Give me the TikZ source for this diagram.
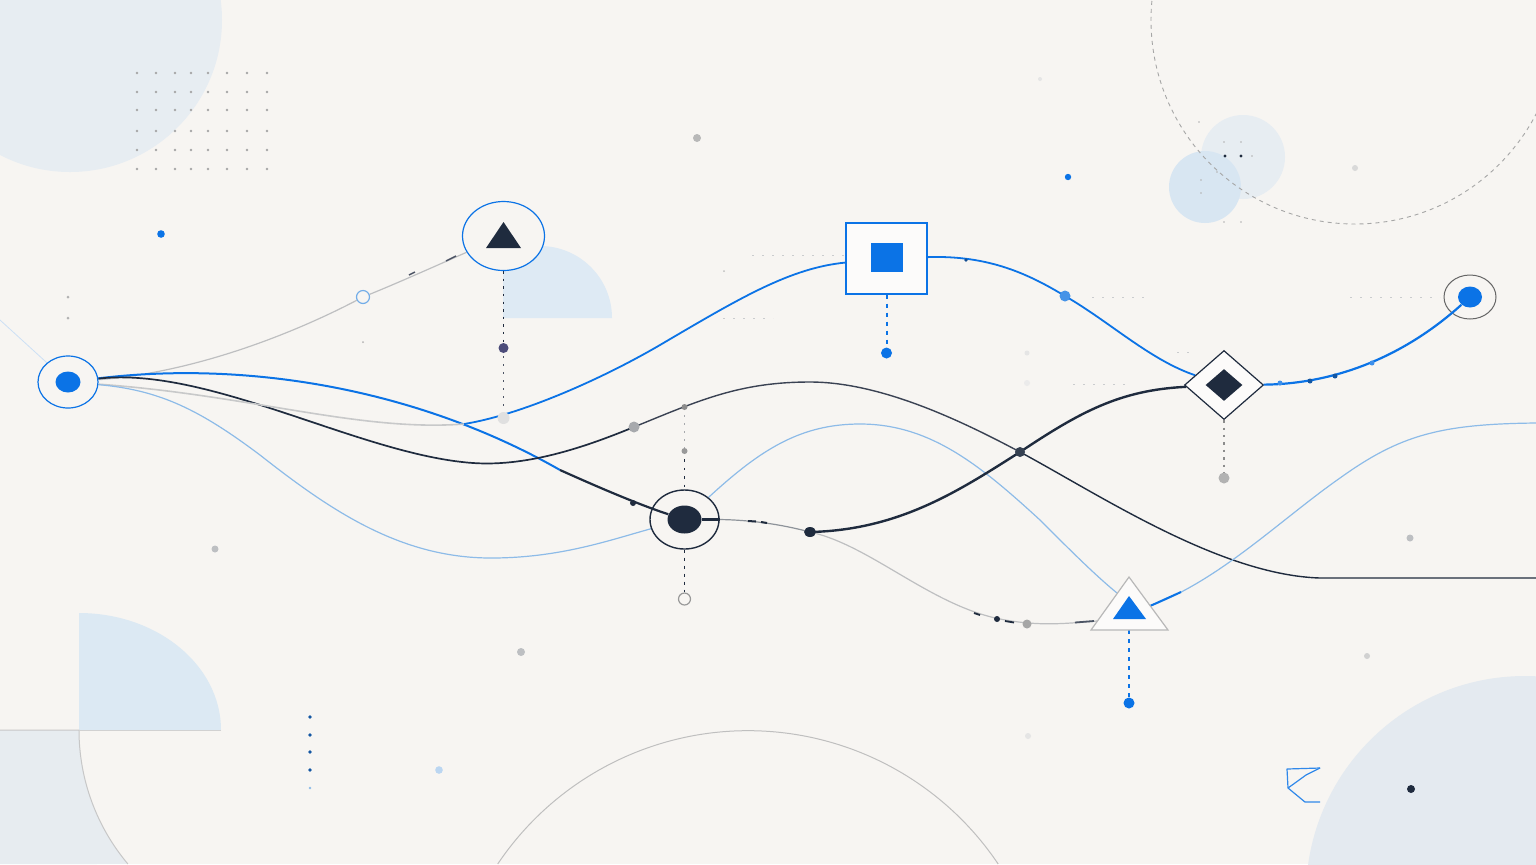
\documentclass[tikz,border=0pt]{standalone}
\usetikzlibrary{shapes.geometric}
\pgfdeclarelayer{bg}
\pgfdeclarelayer{edges}
\pgfsetlayers{bg,edges,main}
\definecolor{bgc}{HTML}{F7F5F2}
\definecolor{navy}{HTML}{1F2B3E}
\definecolor{blu}{HTML}{0B73E6}
\definecolor{lblu}{HTML}{8DBBE8}
\definecolor{gline}{HTML}{BEBFC1}
\definecolor{shapeA}{HTML}{E7EDF2}
\definecolor{shapeB}{HTML}{D8E6F2}
\definecolor{shapeC}{HTML}{E7ECF0}
\definecolor{shapeD}{HTML}{E4EAF0}
\definecolor{dgray}{HTML}{4D5465}
\definecolor{mgray}{HTML}{A7A9AD}
\definecolor{wfill}{HTML}{FCFBFA}
\definecolor{softgray}{HTML}{BDBFC2}
\definecolor{midnavy}{HTML}{3A4253}
\begin{document}
\begin{tikzpicture}[x=0.5pt,y=-0.5pt,
  ringstyle/.style={ellipse,inner sep=0pt,fill=bgc},
  innerdot/.style={ellipse,inner sep=0pt},
  guide/.style={softgray!80,line width=0.5pt,dash pattern=on 1pt off 4pt},
  opencirc/.style={circle,inner sep=0pt,fill=bgc,line width=0.6pt}]
\useasboundingbox (0,0) rectangle (1536,864);

% ---------- nodes ----------
\node[ringstyle,draw=blu,line width=0.6pt,minimum width=30pt,minimum height=26pt] (A) at (68,382) {};
\node[innerdot,fill=blu,minimum width=12.5pt,minimum height=10.5pt] (Ai) at (68,382) {};

\node[ringstyle,draw=blu,line width=0.6pt,minimum width=41pt,minimum height=34.5pt] (B) at (503.5,236) {};
\fill[navy] (503.5,222) -- (521,248) -- (486,248) -- cycle;

\node[rectangle,draw=blu,line width=0.6pt,fill=wfill,inner sep=0pt,minimum width=40.5pt,minimum height=35.5pt] (C) at (886.5,258.5) {};
\node[rectangle,fill=blu,inner sep=0pt,minimum width=16pt,minimum height=14.5pt] (Ci) at (887,257.5) {};

\node[diamond,draw=navy,line width=0.6pt,fill=wfill,inner sep=0pt,minimum width=39.5pt,minimum height=34.5pt] (D) at (1224,385) {};
\node[diamond,fill=navy,inner sep=0pt,minimum width=18.5pt,minimum height=16pt] (Di) at (1224,385) {};

\node[ringstyle,draw=black!60,line width=0.5pt,minimum width=26pt,minimum height=22pt] (E) at (1470,297) {};
\node[innerdot,fill=blu,minimum width=12pt,minimum height=10.5pt] (Ei) at (1470,297) {};

\node[ringstyle,draw=navy,line width=0.7pt,minimum width=34.5pt,minimum height=29.5pt] (F) at (684.5,519.5) {};
\node[innerdot,fill=navy,minimum width=17pt,minimum height=14pt] (Fi) at (684.5,519.5) {};

\coordinate (G) at (1129,610);
\filldraw[fill=wfill,draw=black!28,line width=0.6pt] (1129,577) -- (1168,630) -- (1091,630) -- cycle;
\fill[blu] (1129,596) -- (1146,619) -- (1113,619) -- cycle;
\coordinate (Gtl) at (1117,593);
\coordinate (Gr) at (1150,606);
\coordinate (Gl) at (1097,621);
\coordinate (Gb) at (1129,630);

\node[opencirc,draw=lblu!80!blu,minimum size=6.5pt] (O1) at (363,297) {};
\node[opencirc,draw=black!40,minimum size=6pt] (Fo) at (684.5,599) {};

\coordinate (p1) at (560,470);
\coordinate (p2) at (810,532);
\coordinate (X) at (464,424);
\coordinate (b1) at (503.5,348);
\coordinate (b2) at (503.5,418);
\coordinate (c1) at (886.5,353);
\coordinate (f0) at (684.5,407);
\coordinate (f1) at (684.5,451);
\coordinate (d1) at (1224,478);
\coordinate (g1) at (1129,703);
\coordinate (q1) at (634,427);
\coordinate (q2) at (1020,452);
\coordinate (q3) at (1065,296);

% ---------- background ----------
\begin{pgfonlayer}{bg}
\fill[bgc] (0,0) rectangle (1536,864);
\begin{scope}
\clip (0,0) rectangle (1536,864);
\fill[shapeA] (70,20) circle[radius=152];
\foreach \xx in {137,156,175,191,208,227,247,267}
  \foreach \yy in {73,92,110,131,150,169}
    \fill[black!35] (\xx,\yy) circle[radius=1.3];
\fill[shapeB!85] (503,318) -- (503,246) -- (540,246) arc[start angle=-90,end angle=0,radius=72] -- cycle;
% bottom left
\fill[shapeB!90] (79,730) -- (79,613) arc[start angle=-90,end angle=0,x radius=142,y radius=117] -- cycle;
\fill[shapeC] (0,730) -- (79,730) arc[start angle=180,end angle=139.9,radius=208] -- (0,864) -- cycle;
\draw[black!22,line width=0.5pt] (0,730) -- (79,730) arc[start angle=180,end angle=139.9,radius=208];
\draw[black!18,line width=0.4pt] (79,730) -- (221,730);
% bottom centre arc
\draw[black!25,line width=0.5pt] (497.7,864) arc[start angle=-146.1,end angle=-33.9,radius=301.5];
% bottom right
\fill[shapeD] (1525,895) circle[radius=219];
% top right
\fill[shapeA] (1243,157) circle[radius=42];
\fill[shapeB] (1205,187) circle[radius=36];
\draw[black!35,line width=0.45pt,dash pattern=on 2pt off 2pt] (1355,20) circle[radius=204];
\fill[navy] (1225,156) circle[radius=1.6];
\fill[navy] (1241,156) circle[radius=1.6];
\foreach \pp in {(1224,142),(1241,142),(1199,122),(1201,180),(1201,193),(1224,222),(1241,222),(1252,156),(1217,172)}
  \fill[black!30] \pp circle[radius=0.8];
% scattered dots
\fill[blu] (161,234) circle[radius=3.8];
\fill[black!28] (697,138) circle[radius=4];
\fill[blu] (1068,177) circle[radius=3.2];
\fill[black!15] (1355,168) circle[radius=3];
\fill[black!10] (1040,79) circle[radius=2];
\fill[softgray] (215,549) circle[radius=3.5];
\fill[softgray] (521,652) circle[radius=4];
\fill[lblu!60] (439,770) circle[radius=3.8];
\foreach \yy in {717,735,752,770} \fill[blu!60!navy] (310,\yy) circle[radius=1.8];
\fill[lblu] (310,788) circle[radius=1.3];
\fill[softgray] (1410,538) circle[radius=3.5];
\fill[black!18] (1367,656) circle[radius=3];
\fill[black!10] (1028,736) circle[radius=3];
\fill[navy] (1411,789) circle[radius=4];
\fill[black!30] (68,297) circle[radius=1.5];
\fill[black!30] (68,318) circle[radius=1.5];
\fill[black!30] (363,342) circle[radius=1];
\fill[black!10] (1027,353) circle[radius=2.5];
\fill[black!8] (1027,383) circle[radius=3];
\fill[black!25] (724,271) circle[radius=1];
% faint guides
\draw[guide] (752,255) -- (845,255);
\draw[guide] (723,318) -- (773,318);
\draw[guide] (1092,297) -- (1148,297);
\draw[guide] (1073,384) -- (1130,384);
\draw[guide] (1350,297) -- (1440,297);
\draw[guide] (1177,352) -- (1190,352);
% blue glyph
\draw[blu!85,line width=0.6pt,line join=round] (1320,768) -- (1287,769) -- (1288,788) -- (1305,802) -- (1320,802);
\draw[blu!85,line width=0.6pt,line join=round] (1320,768) -- (1306,775) -- (1288,788);
\end{scope}
\end{pgfonlayer}

% ---------- connectors ----------
\begin{pgfonlayer}{edges}
\draw[lblu!45,line width=0.4pt] (0,320) -- (A);
% A -> O1 -> B (grey)
\draw[gline,line width=0.6pt] (A) .. controls (200,372) and (300,330) .. (O1);
\draw[gline,line width=0.6pt] (O1) .. controls (400,282) and (440,264) .. (B);
\draw[dgray,line width=0.7pt] (409,275) -- (415,272);
\draw[dgray,line width=0.7pt] (446,261) -- (456,256);
% A -> F (blue part)
\draw[blu,line width=1pt] (A) .. controls (250,360) and (420,390) .. (p1);
% A -> ... -> right edge (navy)
\draw[navy,line width=0.85pt] (A) .. controls (210,366) and (360,455) .. (473,463) .. controls (530,467) and (590,445) .. (q1);
\draw[midnavy,line width=0.7pt] (q1) .. controls (700,400) and (740,382) .. (810,382) .. controls (880,382) and (960,420) .. (q2);
\draw[navy,line width=0.7pt] (q2) .. controls (1100,495) and (1220,575) .. (1320,578) -- (1536,578);
% A -> X (grey) -> C (blue)
\draw[gline!85,line width=0.8pt] (A) .. controls (250,395) and (360,432) .. (X);
\draw[blu,line width=0.9pt] (X) .. controls (520,415) and (600,380) .. (660,345) .. controls (740,298) and (790,268) .. (C);
% C -> D
\draw[blu,line width=0.9pt] (C) .. controls (990,255) and (1030,275) .. (q3) .. controls (1110,322) and (1150,360) .. (D);
% light blue A -> F -> G -> right edge
\draw[lblu,line width=0.6pt] (A) .. controls (160,390) and (200,410) .. (260,455) .. controls (330,510) and (400,558) .. (491,558) .. controls (560,558) and (610,540) .. (F);
\draw[lblu,line width=0.6pt] (F) .. controls (760,450) and (800,424) .. (860,424) .. controls (930,424) and (980,465) .. (1040,520) .. controls (1070,550) and (1095,575) .. (Gtl);
\draw[lblu,line width=0.6pt] (Gr) .. controls (1220,580) and (1280,520) .. (1340,478) .. controls (1400,435) and (1440,424) .. (1536,423);
\draw[blu,line width=1pt] (Gr) -- (1181,592);
% F -> p2
\draw[gline!70!navy,line width=0.6pt] (F.east) .. controls (750,520) and (780,524) .. (p2);
\draw[navy,line width=1pt] (748,521) -- (756,521.5);
\draw[navy,line width=1pt] (761,522) -- (767,523);
% p2 -> D (dark thick)
\draw[navy,line width=1.2pt] (p2) .. controls (900,530) and (960,490) .. (q2) .. controls (1080,412) and (1120,390) .. (D);
% p2 -> G (grey)
\draw[gline,line width=0.6pt] (p2) .. controls (870,545) and (930,605) .. (1000,619) .. controls (1040,627) and (1070,623) .. (Gl);
\draw[navy,line width=0.9pt] (974,613) -- (980,615);
\draw[navy,line width=0.9pt] (1005,621) -- (1014,622.5);
\draw[navy!80,line width=0.9pt] (1075,622.5) -- (1094,621);
% dotted verticals
\draw[navy,line width=0.8pt,dash pattern=on 1.2pt off 2.6pt] (B) -- (b1);
\draw[dgray,line width=0.6pt,dash pattern=on 1pt off 3pt] (b1) -- (b2);
\draw[blu,line width=1pt,dash pattern=on 2pt off 2.5pt] (C) -- (c1);
\draw[mgray,line width=0.6pt,dash pattern=on 1pt off 3pt] (f0) -- (f1);
\draw[navy,line width=0.7pt,dash pattern=on 1.2pt off 3pt] (f1) -- (F);
\draw[navy,line width=0.8pt,dash pattern=on 1.5pt off 2.5pt] (F) -- (Fo);
\draw[black!45,line width=0.6pt,dash pattern=on 1.2pt off 2.5pt] (D) -- (d1);
\draw[blu,line width=1pt,dash pattern=on 2pt off 2.5pt] (Gb) -- (g1);
\end{pgfonlayer}

% ---------- segments crossing rings ----------
\draw[navy,line width=1.1pt] (p1) .. controls (600,488) and (640,505) .. (Fi);
\draw[navy,line width=1.4pt] (Fi.east) -- (F.east);
\draw[blu,line width=1.1pt] (D) .. controls (1330,384) and (1400,360) .. (Ei);

% ---------- markers ----------
\fill[black!55!blue!40!gray] (b1) circle[radius=5];
\fill[black!12] (b2) circle[radius=6];
\fill[blu] (c1) circle[radius=5.5];
\fill[black!45] (f0) circle[radius=3];
\fill[black!40] (f1) circle[radius=3];
\fill[mgray] (q1) circle[radius=5.5];
\fill[navy!90] (q2) circle[radius=5];
\fill[navy] (p2) circle[x radius=6,y radius=5];
\fill[navy] (633,503) circle[radius=3];
\fill[blu!55!lblu] (q3) circle[radius=5.5];
\fill[black!30] (d1) circle[radius=5.5];
\fill[blu] (g1) circle[radius=5.5];
\fill[black!35] (1027,624) circle[radius=4.5];
\fill[navy] (997,619) circle[radius=3];
\fill[blu!80] (1280,383) circle[radius=2.5];
\fill[blu!60!navy] (1310,381) circle[radius=2.5];
\fill[blu!60!navy] (1335,376) circle[radius=2.5];
\fill[blu!80] (1372,363) circle[radius=2.5];
\fill[blu!50!navy] (966,260) circle[radius=1.8];
\end{tikzpicture}
\end{document}
